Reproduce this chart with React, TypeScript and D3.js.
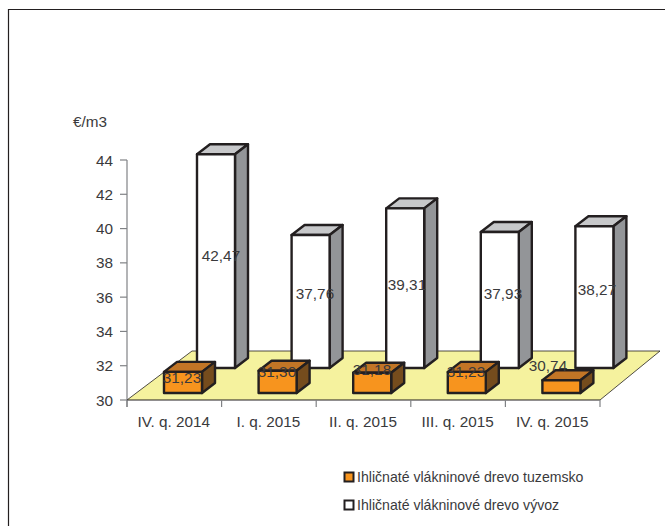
import React from "react";
import * as d3 from "d3";

const categories = ["IV. q. 2014", "I. q. 2015", "II. q. 2015", "III. q. 2015", "IV. q. 2015"];
const domesticValues = [31.23, 31.3, 31.18, 31.23, 30.74];
const exportValues = [42.47, 37.76, 39.31, 37.93, 38.27];
const domesticLabels = ["31,23", "31,30", "31,18", "31,23", "30,74"];
const exportLabels = ["42,47", "37,76", "39,31", "37,93", "38,27"];
const yTicks = [30, 32, 34, 36, 38, 40, 42, 44];
const legendNames = ["Ihličnaté vlákninové drevo tuzemsko", "Ihličnaté vlákninové drevo vývoz"];
const domesticLabelPos = [[182, 377], [277, 371], [372, 369], [466, 371], [548, 365]];
const exportLabelPos = [[221, 255], [315, 293], [407, 284], [503, 293], [597, 289]];

const FONT = "'Liberation Sans', Arial, sans-serif";
const TEXT = "#3a3a3c";
const INK = "#231f20";
const FS = 15.3;
const x = d3.scaleBand<string>().domain(categories).range([127, 600]);
const y = d3.scaleLinear().domain([30, 44]).range([400, 160]);
const h = (v: number) => y(30) - y(v);
const pts = (p: number[][]) => p.map((q) => q.join(",")).join(" ");

function Bar({ left, base, height, w, dx, dy, front, top, side }: any) {
  const t = base - height;
  return (
    <g stroke={INK} strokeWidth={2.4} strokeLinejoin="round">
      <polygon points={pts([[left, t], [left + dx, t - dy], [left + w + dx, t - dy], [left + w, t]])} fill={top} />
      <polygon points={pts([[left + w, t], [left + w + dx, t - dy], [left + w + dx, base - dy], [left + w, base]])} fill={side} />
      <rect x={left} y={t} width={w} height={height} fill={front} />
    </g>
  );
}

export default function App() {
  const W = 38, DX = 13, DY = 10;
  return (
    <svg width={665} height={526} style={{ position: "absolute", left: 0, top: 0, background: "#fff" }} fontFamily={FONT}>
      <path d="M8.5 526V9.5H665" fill="none" stroke={INK} strokeWidth={1.2} />
      <polygon points={pts([[127, 400], [192, 351], [660, 351], [600, 400]])} fill="#f5f29e" />
      <path d="M127 400L192 351M192 351H660M660 351L600 400" fill="none" stroke={INK} strokeWidth={0.8} />
      <line x1={127} x2={127} y1={y(44)} y2={y(30) + 7} stroke="#808285" strokeWidth={1.2} />
      {yTicks.map((t) => (
        <g key={t}>
          <line x1={120} x2={127} y1={y(t)} y2={y(t)} stroke="#808285" strokeWidth={1.2} />
          <text x={113} y={y(t) + 5.5} textAnchor="end" fontSize={FS} fill={TEXT}>{t}</text>
        </g>
      ))}
      <text x={73} y={126.5} fontSize={FS} fill={TEXT}>€/m3</text>
      {categories.map((c, i) => (
        <Bar key={c} left={x(c)! + 70} base={368} height={h(exportValues[i])} w={W} dx={DX} dy={DY} front="#ffffff" top="#c7c8ca" side="#939598" />
      ))}
      <line x1={127} x2={600} y1={400} y2={400} stroke={INK} strokeWidth={1.2} />
      {[...categories.map((c) => x(c)!), 600].map((p) => (
        <line key={p} x1={p} x2={p} y1={400} y2={407} stroke="#808285" strokeWidth={1.2} />
      ))}
      {categories.map((c, i) => (
        <g key={c}>
          <Bar left={x(c)! + 37} base={393} height={h(domesticValues[i])} w={W} dx={DX} dy={DY} front="#f7941e" top="#c27526" side="#754c1d" />
          <text x={x(c)! + x.bandwidth() / 2 - 0.5} y={426.5} textAnchor="middle" fontSize={FS} fill={TEXT}>{c}</text>
        </g>
      ))}
      {exportLabels.map((l, i) => (
        <text key={i} x={exportLabelPos[i][0]} y={exportLabelPos[i][1]} dy={5.5} textAnchor="middle" fontSize={FS} fill={TEXT}>{l}</text>
      ))}
      {domesticLabels.map((l, i) => (
        <text key={i} x={domesticLabelPos[i][0]} y={domesticLabelPos[i][1]} dy={5.5} textAnchor="middle" fontSize={FS} fill={TEXT}>{l}</text>
      ))}
      {legendNames.map((n, i) => (
        <g key={n}>
          <rect x={344.5} y={472.5 + i * 28} width={9} height={9} fill={i === 0 ? "#f7941e" : "#fff"} stroke={INK} strokeWidth={2} />
          <text x={357} y={482 + i * 28} fontSize={14.1} fill={TEXT}>{n}</text>
        </g>
      ))}
    </svg>
  );
}
